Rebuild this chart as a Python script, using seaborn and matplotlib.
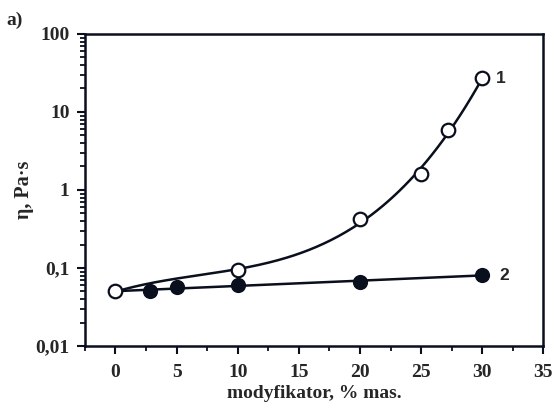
import numpy as np
import pandas as pd
import matplotlib
matplotlib.use("Agg")
import matplotlib.pyplot as plt
import seaborn as sns
from matplotlib.ticker import FixedLocator, LogLocator, NullFormatter

# data
x1 = [0, 10, 20, 25, 27.2, 30]
y1 = [0.05, 0.094, 0.42, 1.6, 5.9, 27]
x2 = [0, 2.8, 5, 10, 20, 30]
y2 = [0.05, 0.0507, 0.057, 0.0605, 0.0667, 0.081]
xticks = [0, 5, 10, 15, 20, 25, 30, 35]
yticks = [0.01, 0.1, 1, 10, 100]
yticklabels = ["0,01", "0,1", "1", "10", "100"]

sns.set_theme(style="white")
plt.rcParams['font.family'] = ['Liberation Serif', 'DejaVu Serif']

fig = plt.figure(figsize=(5.55, 4.09), dpi=100)
ax = fig.add_axes([0.153, 0.154, 0.826, 0.763])

ink = "#0a0f1e"

# fitted curves (in log space)
xs = np.linspace(0, 30, 200)
c1 = np.polyfit(x1, np.log10(y1), 3)
c2 = np.polyfit(x2, np.log10(y2), 1)
fit = pd.DataFrame({"x": np.concatenate([xs, xs]),
                    "y": np.concatenate([10 ** np.polyval(c1, xs), 10 ** np.polyval(c2, xs)]),
                    "s": ["1"] * len(xs) + ["2"] * len(xs)})
sns.lineplot(data=fit, x="x", y="y", units="s", estimator=None, color=ink,
             lw=1.8, ax=ax, legend=False)

d2 = pd.DataFrame({"x": x2[1:], "y": y2[1:]})
sns.scatterplot(data=d2, x="x", y="y", ax=ax, s=95, color=ink,
                edgecolor=ink, linewidth=1.2, zorder=3)
d1 = pd.DataFrame({"x": x1, "y": y1})
sns.scatterplot(data=d1, x="x", y="y", ax=ax, s=95, color="white",
                edgecolor=ink, linewidth=1.6, zorder=4)

ax.set_yscale("log")
ax.set_xlim(-2.5, 35)
ax.set_ylim(0.01, 100)
ax.set_xticks(xticks)
ax.set_xticklabels([str(t) for t in xticks])
ax.xaxis.set_minor_locator(FixedLocator([-2.5, 2.5, 7.5, 12.5, 17.5, 22.5, 27.5, 32.5]))
ax.set_yticks(yticks)
ax.set_yticklabels(yticklabels)
ax.yaxis.set_minor_locator(LogLocator(base=10, subs=np.arange(2, 10)))
ax.yaxis.set_minor_formatter(NullFormatter())

for lab in ax.get_xticklabels() + ax.get_yticklabels():
    lab.set_fontweight("bold")
    lab.set_fontsize(14)

ax.tick_params(axis="x", which="major", pad=7)
ax.tick_params(axis="y", which="major", pad=5)
ax.tick_params(axis="both", which="major", direction="out", length=6, width=1.5,
               color=ink, bottom=True, left=True, top=False, right=False)
ax.tick_params(axis="both", which="minor", direction="out", length=3.5, width=1.3,
               color=ink, bottom=True, left=True, top=False, right=False)

for sp in ax.spines.values():
    sp.set_linewidth(1.8)
    sp.set_color(ink)

ax.set_xlabel("modyfikator, % mas.", fontsize=14, fontweight="bold", labelpad=3)
ax.set_ylabel("η, Pa·s", fontsize=14.5, fontweight="bold", labelpad=1)

ax.text(31.1, 27, "1", fontsize=12.5, fontweight="bold", family=["Liberation Sans"],
        va="center", ha="left")
ax.text(31.4, 0.081, "2", fontsize=12.5, fontweight="bold", family=["Liberation Sans"],
        va="center", ha="left")
fig.text(0.012, 0.95, "a)", fontsize=14, fontweight="bold", va="center", ha="left")

fig.savefig("out.png", dpi=100)
